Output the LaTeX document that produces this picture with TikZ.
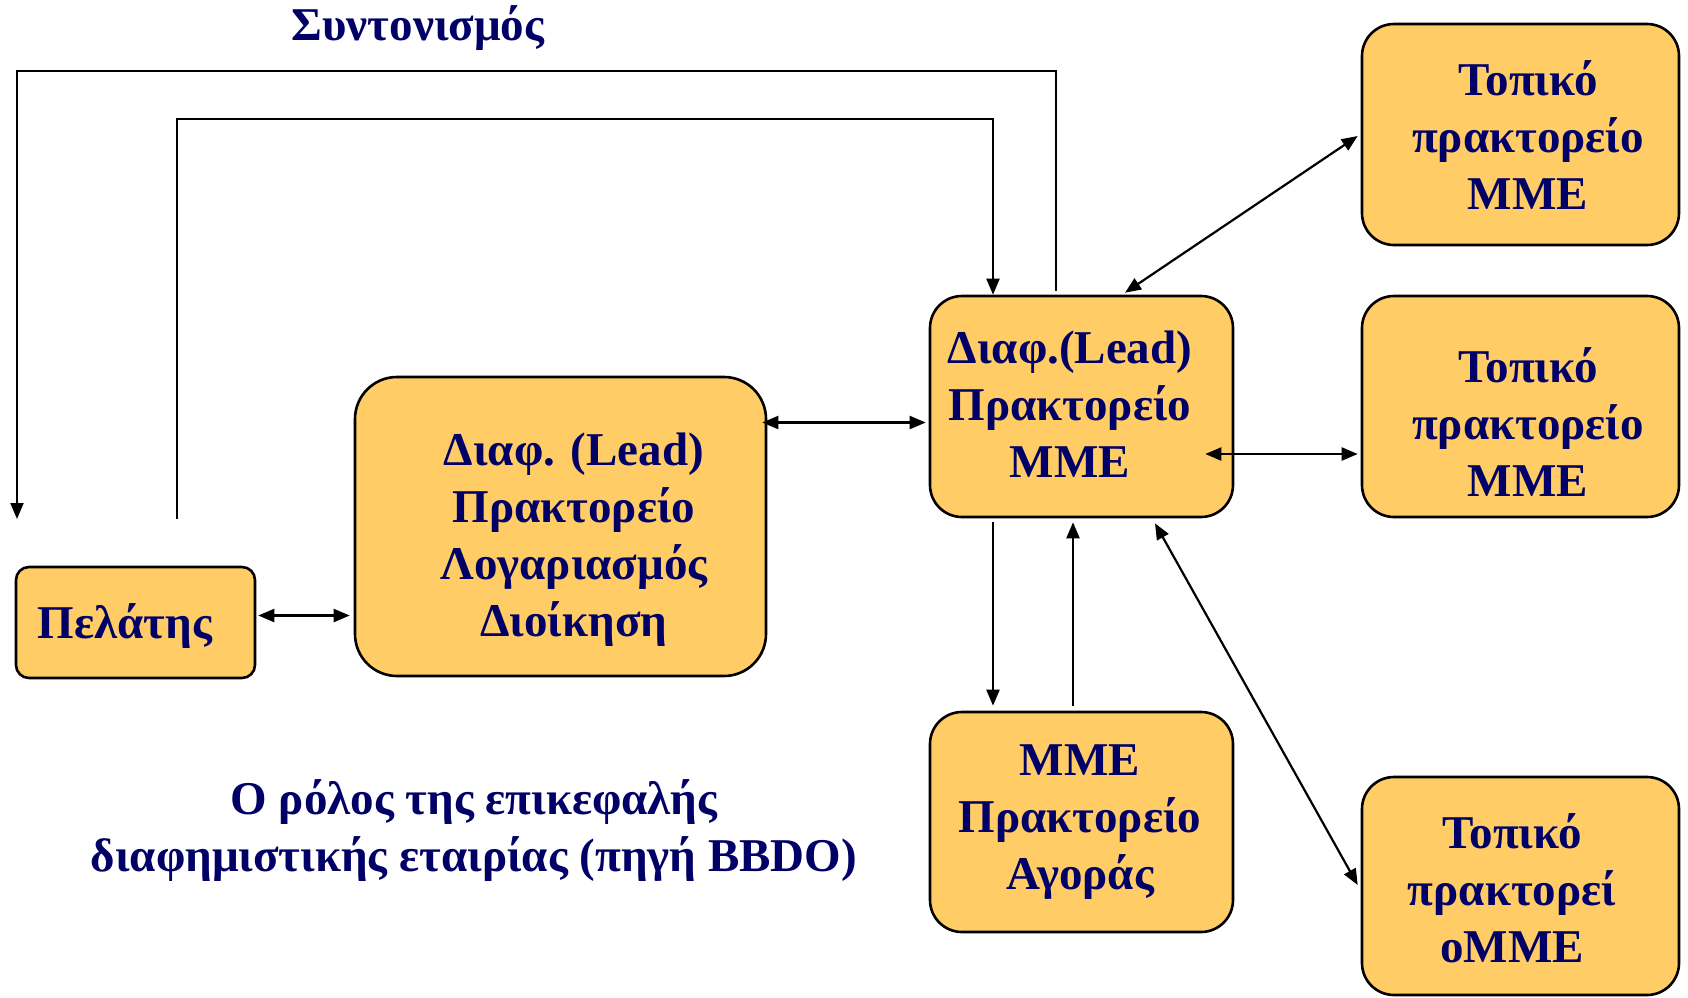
\documentclass[tikz,border=0pt]{standalone}
\usepackage{fontspec}
\setmainfont{Liberation Serif}
\usetikzlibrary{arrows.meta,calc}
\definecolor{boxfill}{HTML}{FFCC66}
\definecolor{navytext}{HTML}{000066}
\tikzset{
  box/.style={draw=black, line width=1.3pt, fill=boxfill, inner sep=0pt},
  txt/.style={text=navytext, font=\bfseries\fontsize{23.5}{28.5}\selectfont, align=center, inner sep=0pt},
  conn/.style={draw=black, line width=1.1pt},
  tip/.style={-{Triangle[length=8pt,width=6.5pt]}},
  dtip/.style={{Triangle[length=8pt,width=6.5pt]}-{Triangle[length=8pt,width=6.5pt]}}
}
\begin{document}
\begin{tikzpicture}[x=0.5pt,y=-0.5pt]
\useasboundingbox (0,0) rectangle (1688,997);
% boxes
\node[box, rounded corners=6.5pt, minimum width=119.5pt, minimum height=55.5pt] (pel) at (135.5,622.5) {};
\node[box, rounded corners=21pt, minimum width=205.5pt, minimum height=149.5pt] (la) at (560.5,526.5) {};
\node[box, rounded corners=16pt, minimum width=151.5pt, minimum height=110.5pt] (lm) at (1081.5,406.5) {};
\node[box, rounded corners=16pt, minimum width=158.5pt, minimum height=110.5pt] (l1) at (1520.5,134.5) {};
\node[box, rounded corners=16pt, minimum width=158.5pt, minimum height=110.5pt] (l2) at (1520.5,406.5) {};
\node[box, rounded corners=16pt, minimum width=158.5pt, minimum height=109pt] (l3) at (1520.5,886) {};
\node[box, rounded corners=16pt, minimum width=151.5pt, minimum height=110pt] (mme) at (1081.5,822) {};
% texts
\node[txt] (pelt) at (125,626) {Πελάτης};
\node[txt] (lat) at (574,540) {Διαφ. (Lead)\\Πρακτορείο\\Λογαριασμός\\Διοίκηση};
\node[txt] (lmt) at (1070,404) {Διαφ.(Lead)\\Πρακτορείο\\ΜΜΕ};
\node[txt] (l1t) at (1528,135) {Τοπικό\\πρακτορείο\\ΜΜΕ};
\node[txt] (l2t) at (1528,422) {Τοπικό\\πρακτορείο\\ΜΜΕ};
\node[txt] (l3t) at (1512,888) {Τοπικό\\πρακτορεί\\οΜΜΕ};
\node[txt] (mmet) at (1080,822) {ΜΜΕ\\Πρακτορείο\\Αγοράς};
\node[txt] (cap) at (474,831) {Ο ρόλος της επικεφαλής\\διαφημιστικής εταιρίας (πηγή BBDO)};
\node[txt] (syn) at (418,28) {Συντονισμός};
% free-end coordinates
\coordinate (co1) at (17,71);
\coordinate (co2) at (17,519);
\coordinate (ci1) at (177,519);
\coordinate (ci2) at (993,119);
\coordinate (c1) at ($(lm.west)+(0,16)$);
\coordinate (c2) at ($(pel.east)+(0,-7)$);
% connectors
\draw[conn, tip] ($(lm.north)+(-25.5,-4)$) |- (co1) -- (co2);
\draw[conn, tip] (ci1) |- (ci2) -- (ci2 |- lm.north);
\draw[conn, dtip, shorten <=1pt, shorten >=2pt] (c2) -- (c2 -| la.west);
\draw[conn, dtip, shorten <=-2.5pt, shorten >=1.5pt] (la.east |- c1) -- (c1);
\draw[conn, dtip] ($(lm.north)+(43.5,-2)$) -- ($(l1.west)+(-3,1.5)$);
\draw[conn, dtip] ($(lm.east)+(-29,47.5)$) -- ($(l2.west)+(-3,47.5)$);
\draw[conn, tip] ($(lm.south)+(-88.5,4)$) -- ($(mme.north)+(-88.5,-5)$);
\draw[conn, tip] ($(mme.north)+(-8.5,-5)$) -- ($(lm.south)+(-8.5,4)$);
\draw[conn, dtip] ($(lm.south)+(73.5,5)$) -- ($(l3.west)+(-3,-1)$);
\end{tikzpicture}
\end{document}
